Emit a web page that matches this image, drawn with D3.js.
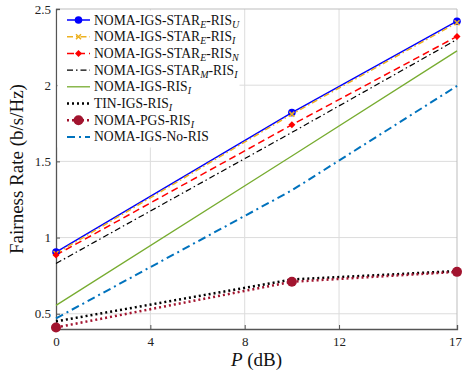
<!DOCTYPE html>
<html>
<head>
<meta charset="utf-8">
<script src="https://cdn.jsdelivr.net/npm/d3@7"></script>
<style>
  body { margin: 0; background: #fff; }
  svg text { font-family: "Liberation Serif", "Times New Roman", serif; }
</style>
</head>
<body>
<script>
const width = 462;
const height = 374;
const margin = { top: 9, right: 5, bottom: 45, left: 56 };

// power levels (dB)
const powers = [0, 10, 17];
const xTicks = [0, 4, 8, 12, 17];
const yTicks = [0.5, 1, 1.5, 2, 2.5];

// fairness rate per scheme
const starEU = [0.905, 1.82, 2.42];
const starEI = [0.895, 1.81, 2.41];
const starEN = [0.885, 1.74, 2.32];
const starMI = [0.83, 1.69, 2.30];
const igsRis = [0.555, 1.535, 2.225];
const tinRis = [0.45, 0.725, 0.78];
const pgsRis = [0.41, 0.71, 0.775];
const noRis = [0.47, 1.31, 1.995];

const series = [
  { name: ['NOMA-IGS-STAR', 'E', '-RIS', 'U'], values: starEU, color: '#0000ff', dash: null, w: 1.5, marker: 'circle', r: 3.8 },
  { name: ['NOMA-IGS-STAR', 'E', '-RIS', 'I'], values: starEI, color: '#edb120', dash: '6,3,1.5,3', w: 1.5, marker: 'x', r: 2.5 },
  { name: ['NOMA-IGS-STAR', 'E', '-RIS', 'N'], values: starEN, color: '#ff0000', dash: '7,4', w: 1.5, marker: 'diamond', r: 3.5 },
  { name: ['NOMA-IGS-STAR', 'M', '-RIS', 'I'], values: starMI, color: '#000000', dash: '6,3,1.5,3', w: 1.2, marker: null },
  { name: ['NOMA-IGS-RIS', 'I'], values: igsRis, color: '#77ac30', dash: null, w: 1.3, marker: null },
  { name: ['TIN-IGS-RIS', 'I'], values: tinRis, color: '#000000', dash: '2,3', w: 2.5, marker: null },
  { name: ['NOMA-PGS-RIS', 'I'], values: pgsRis, color: '#a2142f', dash: '2,3', w: 2.5, marker: 'circle', r: 5 },
  { name: ['NOMA-IGS-No-RIS'], values: noRis, color: '#0072bd', dash: '8,4,2,4', w: 2, marker: null },
];

const svg = d3.select('body').append('svg').attr('width', width).attr('height', height);

const x = d3.scaleLinear().domain([0, 17]).range([margin.left, width - margin.right]);
const y = d3.scaleLinear().domain([0.4, 2.5]).range([height - margin.bottom, margin.top]);

const x0 = x.range()[0], x1 = x.range()[1];
const y0 = y.range()[0], y1 = y.range()[1];

// grid
svg.append('g')
  .selectAll('line')
  .data(xTicks.slice(1, -1))
  .enter()
  .append('line')
  .attr('x1', (d) => x(d)).attr('x2', (d) => x(d))
  .attr('y1', y1).attr('y2', y0)
  .attr('stroke', '#dcdcdc').attr('stroke-width', 1);

svg.append('g')
  .selectAll('line')
  .data(yTicks.slice(0, -1))
  .enter()
  .append('line')
  .attr('x1', x0).attr('x2', x1)
  .attr('y1', (d) => y(d)).attr('y2', (d) => y(d))
  .attr('stroke', '#dcdcdc').attr('stroke-width', 1);

// top and right border
svg.append('path')
  .attr('d', `M${x0},${y1}H${x1}V${y0}`)
  .attr('fill', 'none').attr('stroke', '#bdbdbd').attr('stroke-width', 1);

// axes
const xAxis = svg.append('g')
  .attr('transform', `translate(0,${y0})`)
  .call(d3.axisBottom(x).tickValues(xTicks).tickSize(-4).tickPadding(8).tickFormat(d3.format('d')));
const yAxis = svg.append('g')
  .attr('transform', `translate(${x0},0)`)
  .call(d3.axisLeft(y).tickValues(yTicks).tickSize(-4).tickPadding(5).tickFormat((d) => String(d)));

[xAxis, yAxis].forEach((a) => {
  a.select('.domain').attr('stroke', '#555').attr('stroke-width', 1.3);
  a.selectAll('.tick line').attr('stroke', '#555');
  a.selectAll('.tick text').attr('fill', '#222').style('font-size', '13px');
});
// last x label sits at the right edge
xAxis.selectAll('.tick text').filter((d) => d === 17).attr('dx', -2);

// legend background
svg.append('rect')
  .attr('x', x0 + 1.5).attr('y', y1 + 1.5)
  .attr('width', 182).attr('height', 137)
  .attr('fill', '#fff');

// lines
const line = d3.line()
  .x((d, i) => x(powers[i]))
  .y((d) => y(d));

function drawMarker(g, type, cx, cy, r, color) {
  if (type === 'circle') {
    g.append('circle').attr('cx', cx).attr('cy', cy).attr('r', r).attr('fill', color);
  } else if (type === 'diamond') {
    g.append('path')
      .attr('d', `M${cx},${cy - r}L${cx + r},${cy}L${cx},${cy + r}L${cx - r},${cy}Z`)
      .attr('fill', color);
  } else if (type === 'x') {
    g.append('path')
      .attr('d', `M${cx - r},${cy - r}L${cx + r},${cy + r}M${cx - r},${cy + r}L${cx + r},${cy - r}`)
      .attr('stroke', color).attr('stroke-width', 1.5);
  }
}

const plot = svg.append('g');
series.forEach((s) => {
  plot.append('path')
    .datum(s.values)
    .attr('d', line)
    .attr('fill', 'none')
    .attr('stroke', s.color)
    .attr('stroke-width', s.w)
    .attr('stroke-dasharray', s.dash);
});
series.forEach((s) => {
  if (!s.marker) return;
  s.values.forEach((v, i) => drawMarker(plot, s.marker, x(powers[i]), y(v), s.r, s.color));
});

// legend
const legend = svg.append('g');
series.forEach((s, i) => {
  const ly = 20 + i * 16.7;
  legend.append('line')
    .attr('x1', 67).attr('x2', 90)
    .attr('y1', ly).attr('y2', ly)
    .attr('stroke', s.color)
    .attr('stroke-width', s.w)
    .attr('stroke-dasharray', s.dash);
  if (s.marker) drawMarker(legend, s.marker, 78.5, ly, s.r, s.color);

  const t = legend.append('text')
    .attr('x', 94).attr('y', ly + 4.5)
    .style('font-size', '13.6px')
    .attr('fill', '#111');
  s.name.forEach((part, k) => {
    if (k % 2 === 0) {
      t.append('tspan').attr('dy', k === 0 ? 0 : -3).text(part);
    } else {
      t.append('tspan')
        .attr('dy', 3)
        .style('font-size', '10px')
        .style('font-style', 'italic')
        .text(part);
    }
  });
});

// axis labels
const xl = svg.append('text')
  .attr('x', (x0 + x1) / 2).attr('y', 366)
  .attr('text-anchor', 'middle')
  .style('font-size', '19px')
  .attr('fill', '#111');
xl.append('tspan').style('font-style', 'italic').text('P');
xl.append('tspan').text(' (dB)');

svg.append('text')
  .attr('transform', `translate(23,${(y0 + y1) / 2}) rotate(-90)`)
  .attr('text-anchor', 'middle')
  .style('font-size', '19px')
  .attr('fill', '#111')
  .text('Fairness Rate (b/s/Hz)');
</script>
</body>
</html>
